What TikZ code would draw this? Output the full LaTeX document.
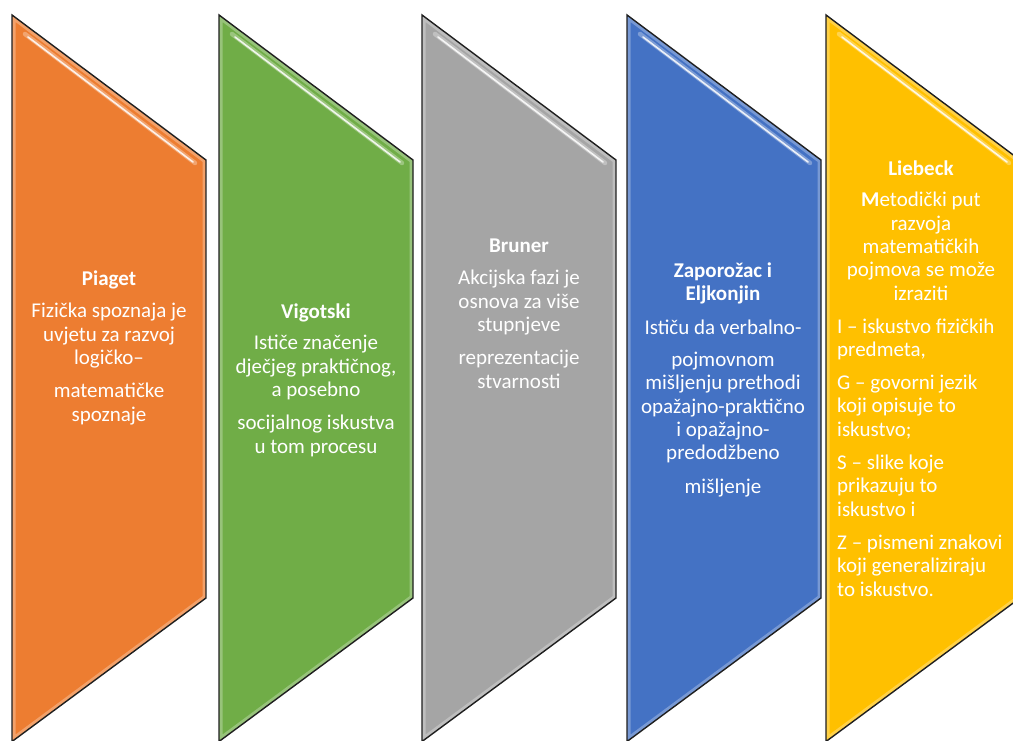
\documentclass[tikz,border=0pt]{standalone}
\usepackage{fontspec}
\setmainfont{Carlito}
\definecolor{corange}{HTML}{ED7D31}
\definecolor{cgreen}{HTML}{70AD47}
\definecolor{cgray}{HTML}{A5A5A5}
\definecolor{cblue}{HTML}{4472C4}
\definecolor{cyellow}{HTML}{FFC000}
\tikzset{
  panel/.style={draw=black!88, line width=1.4pt, line join=miter},
  glow/.style={draw=white, opacity=0.28, line width=7pt},
  glosswide/.style={draw=white, opacity=0.3, line width=4.5pt, line cap=round},
  glossthin/.style={draw=white, opacity=0.85, line width=1.6pt, line cap=round},
  txt/.style={text=white, align=center, inner sep=0pt, anchor=base,
              font=\fontsize{21}{23.3}\selectfont},
  ltxt/.style={txt, align=left, anchor=base west},
}
\begin{document}
\begin{tikzpicture}[x=1pt,y=-1pt]
\useasboundingbox (0,0) rectangle (1013,741);
\clip (0,0) rectangle (1013,741);
\foreach \L/\C in {12/corange,219/cgreen,422/cgray,627/cblue,826/cyellow}{
  \begin{scope}
    \clip (\L,15) -- (\L+194,160) -- (\L+194,598) -- (\L,741.5) -- cycle;
    \fill[\C] (\L,15) -- (\L+194,160) -- (\L+194,598) -- (\L,741.5) -- cycle;
    \draw[glow] (\L,15) -- (\L+194,160) -- (\L+194,598) -- (\L,741.5) -- cycle;
  \end{scope}
  \draw[glosswide] (\L+13,34) -- (\L+183,163);
  \draw[glossthin] (\L+16,37) -- (\L+181,162);
  \draw[panel] (\L,15) -- (\L+194,160) -- (\L+194,598) -- (\L,741.5) -- cycle;
}
% anchor=base is the baseline of the LAST line of each block
\node[txt] (piaget) at (109,421) {\textbf{Piaget}\\[9pt]Fizička spoznaja je\\uvjetu za razvoj\\logičko–\\[10pt]matematičke\\spoznaje};
\node[txt] (vigotski) at (316,453) {\textbf{Vigotski}\\[8pt]Ističe značenje\\dječjeg praktičnog,\\a posebno\\[10pt]socijalnog iskustva\\u tom procesu};
\node[txt] (bruner) at (519,388) {\textbf{Bruner}\\[9pt]Akcijska fazi je\\osnova za više\\stupnjeve\\[10pt]reprezentacije\\stvarnosti};
\node[txt] (zaporozac) at (723,493) {\textbf{Zaporožac i}\\\textbf{Eljkonjin}\\[10pt]Ističu da verbalno-\\[9pt]pojmovnom\\mišljenju prethodi\\opažajno-praktično\\i opažajno-\\predodžbeno\\[10pt]mišljenje};
\node[txt] (liebeck) at (921,300) {\textbf{Liebeck}\\[8pt]\textbf{M}etodički put\\razvoja\\matematičkih\\pojmova se može\\izraziti};
\node[ltxt] (liebecklist) at (837,596) {I – iskustvo fizičkih\\predmeta,\\[10pt]G – govorni jezik\\koji opisuje to\\iskustvo;\\[10pt]S – slike koje\\prikazuju to\\iskustvo i\\[10pt]Z – pismeni znakovi\\koji generaliziraju\\to iskustvo.};
\end{tikzpicture}
\end{document}
